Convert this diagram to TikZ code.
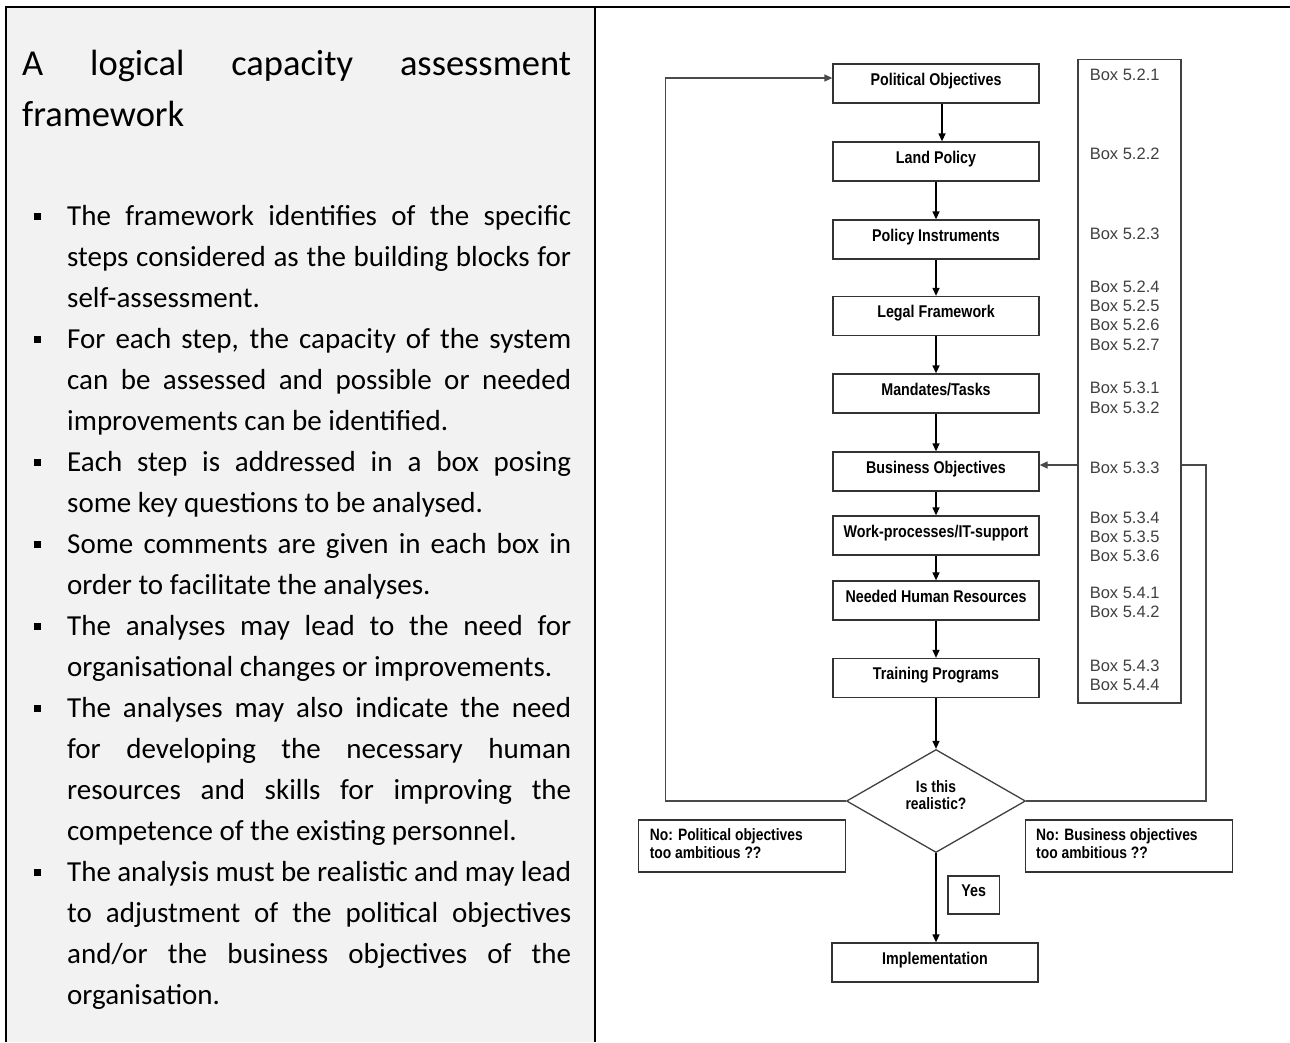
\documentclass[tikz,border=0pt]{standalone}
\usepackage{fontspec}
\setmainfont{Carlito}
\newfontfamily\flowfont[FakeStretch=0.84]{Liberation Sans}
\newfontfamily\reffont{Liberation Sans}
\usetikzlibrary{arrows.meta,shapes.geometric}
\definecolor{panelgray}{HTML}{F2F2F2}
\definecolor{refgray}{HTML}{404040}
\definecolor{linegray}{HTML}{4A4A4A}

% square bullet hanging in the left margin of the text column
\newcommand\sqitem{\par\noindent\llap{\raisebox{6pt}{\rule{6.5pt}{6.5pt}}\hspace{26.5pt}}\strut}

\tikzset{
  flowbox/.style={draw=black!80, line width=1.3pt, minimum width=206pt, minimum height=39pt,
    inner sep=0pt, font=\flowfont\bfseries\fontsize{17}{20}\selectfont,
    text height=12.2pt, text depth=9pt},
  flowtext/.style={inner sep=0pt, font=\flowfont\bfseries\fontsize{16.5}{18}\selectfont},
  notebox/.style={draw=black!80, line width=1.3pt, minimum width=207pt, minimum height=52pt, inner sep=0pt},
  reftext/.style={inner sep=0pt, text=refgray, font=\reffont\fontsize{16.5}{19.5}\selectfont},
  flowarrow/.style={line width=1.3pt, -{Triangle[length=8pt,width=7pt]}},
  loopline/.style={draw=linegray, line width=1.3pt, -{Triangle[length=8pt,width=7pt]}}
}

\begin{document}
\begin{tikzpicture}[x=1pt,y=-1pt]
\useasboundingbox (0,0) rectangle (1290,1042);

% ---------- left text panel ----------
\fill[panelgray] (7,8) rectangle (595,1042);
\draw[line width=2.2pt] (6.1,1042) -- (6.1,7) -- (1290,7);
\draw[line width=2.2pt] (595,7) -- (595,1042);

\node[anchor=north west, inner sep=0pt, text width=549pt, align=justify,
      font=\fontsize{36.5}{51}\selectfont] (title) at (22,39.8)
  {\hyphenpenalty=10000\strut A logical capacity assessment\linebreak framework\strut};

\node[anchor=north west, inner sep=0pt, text width=504pt, align=justify,
      font=\fontsize{29}{41}\selectfont] (bullets) at (67,184.3)
  {\hyphenpenalty=10000\spaceskip=0.226em plus 0.8em minus 0.12em\relax
   \sqitem The framework identifies of the specific\linebreak
   steps considered as the building blocks for\linebreak
   self-assessment.
   \sqitem For each step, the capacity of the system\linebreak
   can be assessed and possible or needed\linebreak
   improvements can be identified.
   \sqitem Each step is addressed in a box posing\linebreak
   some key questions to be analysed.
   \sqitem Some comments are given in each box in\linebreak
   order to facilitate the analyses.
   \sqitem The analyses may lead to the need for\linebreak
   organisational changes or improvements.
   \sqitem The analyses may also indicate the need\linebreak
   for developing the necessary human\linebreak
   resources and skills for improving the\linebreak
   competence of the existing personnel.
   \sqitem The analysis must be realistic and may lead\linebreak
   to adjustment of the political objectives\linebreak
   and/or the business objectives of the\linebreak
   organisation.\strut\par};

% ---------- flowchart ----------
\node[flowbox] (po) at (936,83.5)  {Political Objectives};
\node[flowbox] (lp) at (936,161.5) {Land Policy};
\node[flowbox] (pi) at (936,239.5) {Policy Instruments};
\node[flowbox] (lf) at (936,316)   {Legal Framework};
\node[flowbox] (mt) at (936,393.5) {Mandates/Tasks};
\node[flowbox] (bo) at (936,471.5) {Business Objectives};
\node[flowbox] (wp) at (936,535.5) {Work-processes/IT-support};
\node[flowbox] (hr) at (936,600.5) {Needed Human Resources};
\node[flowbox] (tp) at (936,678)   {Training Programs};
\node[flowbox] (im) at (935,962.5) {Implementation};

\node[diamond, draw=black!75, line width=1.3pt, minimum width=179pt, minimum height=103pt,
      inner sep=0pt] (q) at (936,801) {};
\node[flowtext, anchor=base] (q1) at (936,792) {Is this};
\node[flowtext, anchor=base] (q2) at (936,809) {realistic?};

\node[flowbox, minimum width=51.4pt, minimum height=38pt] (yes) at (973.7,895) {Yes};

\node[notebox] (nopol) at (742.3,846) {};
\node[flowtext, anchor=base west] (np1) at (649.6,840) {No: Political objectives};
\node[flowtext, anchor=base west] (np2) at (649.6,858) {too ambitious ??};

\node[notebox] (nobus) at (1128.8,846) {};
\node[flowtext, anchor=base west] (nb1) at (1036,840) {No: Business objectives};
\node[flowtext, anchor=base west] (nb2) at (1036,858) {too ambitious ??};

% main sequence
\draw[flowarrow] ([xshift=6pt]po.south) -- ([xshift=6pt]lp.north);
\foreach \a/\b in {lp/pi,pi/lf,lf/mt,mt/bo,bo/wp,wp/hr,hr/tp,tp/q}
  \draw[flowarrow] (\a.south) -- (\b.north);
\draw[flowarrow] (q.south) -- (q.south |- im.north);

% feedback loops
\coordinate (lx) at (665.5,801);
\draw[loopline] (q.west) -- (lx) |- ([yshift=5.5pt]po.west);
\coordinate (rx) at (1206,801);
\draw[loopline] (q.east) -- (rx) |- ([yshift=6.5pt]bo.east);

% reference column (drawn over the right loop)
\node[draw=black!75, line width=1.3pt, fill=white, minimum width=103pt, minimum height=643.5pt,
      inner sep=0pt] (refs) at (1129.5,381.25) {};
\foreach \t/\yy [count=\i] in {5.2.1/80, 5.2.2/159, 5.2.3/239,
    5.2.4/292, 5.2.5/311, 5.2.6/330.5, 5.2.7/350,
    5.3.1/393, 5.3.2/413.5, 5.3.3/473,
    5.3.4/523, 5.3.5/542, 5.3.6/561,
    5.4.1/598, 5.4.2/617.5, 5.4.3/671, 5.4.4/690}
  \node[reftext, anchor=base west] (ref\i) at (1089.6,\yy) {Box \t};

\end{tikzpicture}
\end{document}
